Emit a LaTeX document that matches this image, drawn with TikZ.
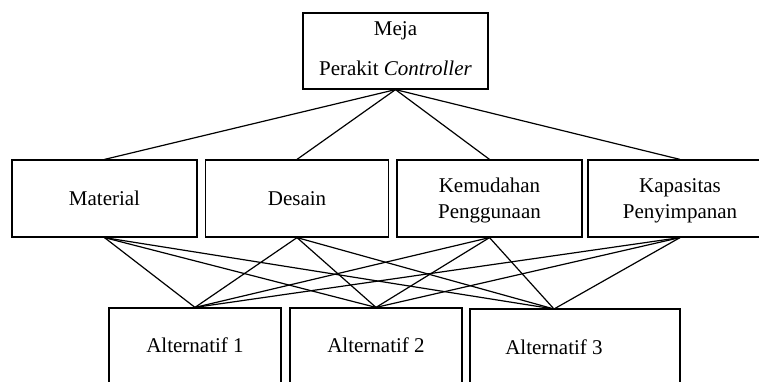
\documentclass[tikz,border=0pt]{standalone}
\usepackage{fontspec}
\setmainfont{Liberation Serif}
\begin{document}
\begin{tikzpicture}[x=1pt,y=-1pt,
  box/.style={draw,line width=1.2pt,inner sep=0pt},
  lbl/.style={font=\fontsize{21}{26}\selectfont,inner sep=0pt,anchor=base},
  con/.style={line width=1.2pt}]
\useasboundingbox (0,0) rectangle (759,381);
\clip (0,0) rectangle (759,381);
% top
\node[box,minimum width=185pt,minimum height=76pt] (top) at (395.5,51) {};
\node[lbl] (t1) at (395.5,35) {Meja};
\node[lbl] (t2) at (395.5,75) {Perakit \textit{Controller}};
% criteria
\node[box,minimum width=185pt,minimum height=77pt] (m1) at (104.5,198.5) {};
\node[box,minimum width=183pt,minimum height=77pt] (m2) at (297,198.5) {};
\node[box,minimum width=185pt,minimum height=77pt] (m3) at (489.5,198.5) {};
\node[box,minimum width=184pt,minimum height=77pt] (m4) at (680,198.5) {};
\node[lbl] (l1) at (104.5,205) {Material};
\node[lbl] (l2) at (297,205) {Desain};
\node[lbl] (l3a) at (489.5,192) {Kemudahan};
\node[lbl] (l3b) at (489.5,218) {Penggunaan};
\node[lbl] (l4a) at (680,192) {Kapasitas};
\node[lbl] (l4b) at (680,218) {Penyimpanan};
% alternatives
\node[box,minimum width=172pt,minimum height=100pt] (a1) at (195,358) {};
\node[box,minimum width=172pt,minimum height=100pt] (a2) at (376,358) {};
\node[box,minimum width=210pt,minimum height=100pt] (a3) at (575,359) {};
\coordinate (a3c) at (554,309);
\node[lbl] (b1) at (195,352) {Alternatif 1};
\node[lbl] (b2) at (376,352) {Alternatif 2};
\node[lbl] (b3) at (554,354) {Alternatif 3};
% connectors
\foreach \m in {m1,m2,m3,m4}{
  \draw[con] (top.south) -- (\m.north);
  \draw[con] (\m.south) -- (a1.north);
  \draw[con] (\m.south) -- (a2.north);
  \draw[con] (\m.south) -- (a3c);
}
\end{tikzpicture}
\end{document}
